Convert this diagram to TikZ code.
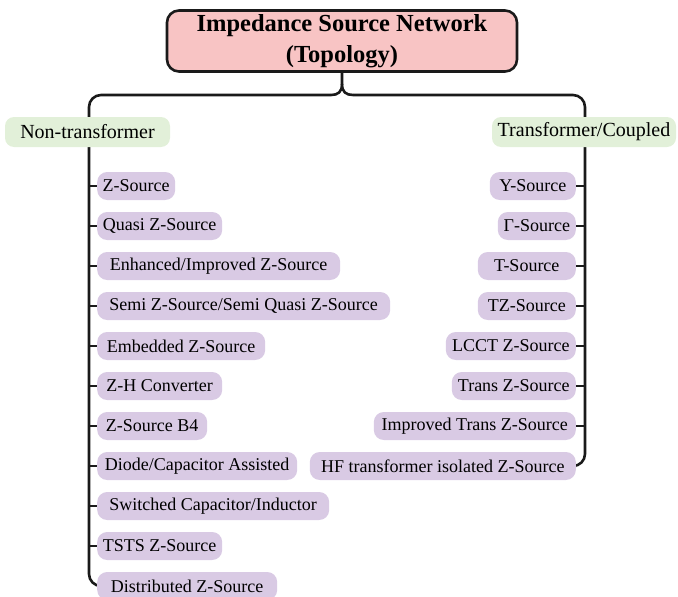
\documentclass[tikz,border=0pt]{standalone}
\usepackage{fontspec}
\setmainfont{Liberation Serif}
\pgfdeclarelayer{background}
\pgfsetlayers{background,main}
\definecolor{pinkfill}{HTML}{F8C4C4}
\definecolor{greenfill}{HTML}{E2F0D9}
\definecolor{purplefill}{HTML}{D9CAE4}
\definecolor{inkc}{HTML}{1A1A1A}
\tikzset{
  titlebox/.style={draw=inkc, line width=2.6pt, fill=pinkfill, rounded corners=12pt,
    minimum width=350pt, minimum height=61pt, align=center,
    font=\fontsize{24.5}{31}\selectfont\bfseries, inner sep=0pt},
  catbox/.style={fill=greenfill, rounded corners=9pt, minimum height=30pt, inner sep=0pt,
    font=\fontsize{20}{24}\selectfont},
  itembox/.style={fill=purplefill, rounded corners=10pt, minimum height=28pt, inner sep=0pt,
    font=\fontsize{18}{22}\selectfont},
  conn/.style={draw=inkc, line width=2.6pt},
}
\newcommand{\litem}[4]{\node[itembox, minimum width=#3pt-97pt, anchor=west] (#1) at (97,#2) {#4};}
\newcommand{\ritem}[4]{\node[itembox, minimum width=576pt-#3pt, anchor=east] (#1) at (576,#2) {#4};}
\begin{document}
\begin{tikzpicture}[x=1pt,y=-1pt]
\useasboundingbox (0,0) rectangle (678,597);
\node[titlebox] (title) at (342,41) {Impedance Source Network\\(Topology)};
\node[catbox, minimum width=165pt] (nt) at (87.5,132) {Non-transformer};
\node[catbox, minimum width=184pt] (tc) at (584,132) {Transformer/Coupled};
\litem{l1}{186}{175}{Z-Source}
\litem{l2}{226}{222}{Quasi Z-Source}
\litem{l3}{266}{340}{Enhanced/Improved Z-Source}
\litem{l4}{306}{390}{Semi Z-Source/Semi Quasi Z-Source}
\litem{l5}{346}{265}{Embedded Z-Source}
\litem{l6}{386}{222}{Z-H Converter}
\litem{l7}{426}{207}{Z-Source B4}
\litem{l8}{466}{297}{Diode/Capacitor Assisted}
\litem{l9}{506}{329}{Switched Capacitor/Inductor}
\litem{l10}{546}{222}{TSTS Z-Source}
\litem{l11}{586}{277}{Distributed Z-Source}
\ritem{r1}{186}{490}{Y-Source}
\ritem{r2}{226}{498}{Γ-Source}
\ritem{r3}{266}{478}{T-Source}
\ritem{r4}{306}{478}{TZ-Source}
\ritem{r5}{346}{446}{LCCT Z-Source}
\ritem{r6}{386}{452}{Trans Z-Source}
\ritem{r7}{426}{374}{Improved Trans Z-Source}
\ritem{r8}{466}{310}{HF transformer isolated Z-Source}
\coordinate (brace) at (342,84);
\coordinate (bl) at (331,95);
\coordinate (br) at (353,95);
\coordinate (lx) at (89,95);
\coordinate (rx) at (585,95);
\begin{pgfonlayer}{background}
\draw[conn, line join=round] (bl) .. controls (338,95) and (342,92) .. (brace) -- (title.south);
\draw[conn, line join=round] (br) .. controls (346,95) and (342,92) .. (brace);
\draw[conn, rounded corners=12pt] (bl) -- (lx) -- (lx |- l11) -- (l11.west);
\draw[conn, rounded corners=12pt] (br) -- (rx) -- (rx |- r8) -- (r8.east);
\foreach \n in {l1,l2,l3,l4,l5,l6,l7,l8,l9,l10}{\draw[conn] (lx |- \n) -- (\n.west);}
\foreach \n in {r1,r2,r3,r4,r5,r6,r7}{\draw[conn] (rx |- \n) -- (\n.east);}
\end{pgfonlayer}
\end{tikzpicture}
\end{document}
